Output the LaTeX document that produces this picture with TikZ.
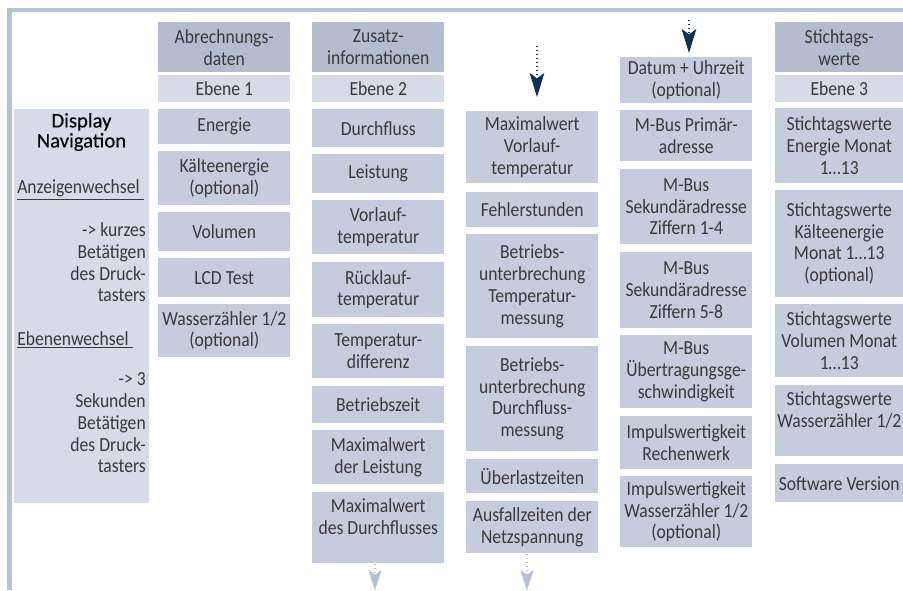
\documentclass[tikz,border=0pt]{standalone}
\usepackage{fontspec}
\setmainfont{Carlito}[FakeStretch=0.88]
\newfontfamily\titlefont{Carlito}[FakeBold=0.3]
\usetikzlibrary{arrows.meta}

\definecolor{headblue}{RGB}{180,189,208}
\definecolor{itemblue}{RGB}{197,204,221}
\definecolor{paleblue}{RGB}{213,219,231}
\definecolor{frameblue}{RGB}{183,193,212}
\definecolor{navy}{RGB}{14,51,84}
\definecolor{txtgray}{RGB}{58,58,58}

\newcommand\pxu{0.75pt}

\tikzset{
  box/.style={fill=itemblue, anchor=north west, minimum width=132*\pxu,
    inner sep=1pt, align=center, text=txtgray,
    font=\fontsize{15}{16.3}\selectfont},
  headbox/.style={box, fill=headblue},
  levelbox/.style={box, fill=paleblue},
  navtext/.style={inner sep=0pt, text=txtgray, font=\fontsize{15}{16.3}\selectfont},
  godown/.style={navy, line width=1pt, dotted,
    -{Stealth[length=18pt, width=11pt, inset=4pt]}},
  gomore/.style={frameblue, line width=1pt, dotted,
    -{Stealth[length=15pt, width=10pt, inset=3.5pt]}}
}

\begin{document}
\begin{tikzpicture}[x=0.75pt, y=-0.75pt]
\useasboundingbox (0,0) rectangle (903,590);
% frame
\draw[frameblue, line width=3.4pt] (903,10) -- (9.5,10) -- (9.5,590);

% display navigation
\node[levelbox, minimum width=135*\pxu, minimum height=394*\pxu] (nav) at (14,109) {};
\node[navtext, text=black, align=center, font=\titlefont\fontsize{15.5}{15}\selectfont] (navtitle) at (81.5,132) {Display\\Navigation};
\node[navtext, anchor=west] (anzeige) at (17,190) {\underline{Anzeigenwechsel\ }};
\node[navtext, anchor=east, align=right] (kurz) at (146,262.5)
  {-> kurzes\\Betätigen\\des Druck-\\tasters};
\node[navtext, anchor=west] (ebenen) at (17,340) {\underline{Ebenenwechsel\ }};
\node[navtext, anchor=east, align=right] (lang) at (146,423)
  {-> 3\\Sekunden\\Betätigen\\des Druck-\\tasters};

% Ebene 1
\node[headbox, minimum height=50*\pxu] (abrechnung) at (158,22) {Abrechnungs-\\daten};
\node[levelbox, minimum height=27*\pxu] (ebene1) at (158,75) {Ebene 1};
\node[box, minimum height=35*\pxu] (energie) at (158,109) {Energie};
\node[box, minimum height=54*\pxu] (kaelte) at (158,151) {Kälteenergie\\(optional)};
\node[box, minimum height=39*\pxu] (volumen) at (158,212) {Volumen};
\node[box, minimum height=39*\pxu] (lcdtest) at (158,258) {LCD Test};
\node[box, minimum height=53*\pxu] (wasser) at (158,304) {Wasserzähler 1/2\\(optional)};

% Ebene 2
\node[headbox, minimum height=50*\pxu] (zusatz) at (312,22) {Zusatz-\\informationen};
\node[levelbox, minimum height=27*\pxu] (ebene2) at (312,75) {Ebene 2};
\node[box, minimum height=38*\pxu] (durchfluss) at (312,109) {Durchfluss};
\node[box, minimum height=39*\pxu] (leistung) at (312,154) {Leistung};
\node[box, minimum height=54*\pxu] (vorlauf) at (312,200) {Vorlauf-\\temperatur};
\node[box, minimum height=55*\pxu] (ruecklauf) at (312,262) {Rücklauf-\\temperatur};
\node[box, minimum height=54*\pxu] (tdiff) at (312,324) {Temperatur-\\differenz};
\node[box, minimum height=37*\pxu] (betriebszeit) at (312,386) {Betriebszeit};
\node[box, minimum height=54*\pxu] (maxleistung) at (312,430) {Maximalwert\\der Leistung};
\node[box, minimum height=71*\pxu] (maxdurchfluss) at (312,492) {Maximalwert\\des Durchflusses\\~};

% Ebene 2, Fortsetzung
\node[box, minimum height=72*\pxu] (maxvorlauf) at (466,111) {Maximalwert\\Vorlauf-\\temperatur};
\node[box, minimum height=35*\pxu] (fehler) at (466,192) {Fehlerstunden};
\node[box, minimum height=104*\pxu] (unterbrtemp) at (466,234) {Betriebs-\\unterbrechung\\Temperatur-\\messung};
\node[box, minimum height=105*\pxu] (unterbrdurch) at (466,346) {Betriebs-\\unterbrechung\\Durchfluss-\\messung};
\node[box, minimum height=34*\pxu] (ueberlast) at (466,459) {Überlastzeiten};
\node[box, minimum height=52*\pxu] (ausfall) at (466,501) {Ausfallzeiten der\\Netzspannung};

% Ebene 2, Fortsetzung
\node[box, minimum height=46*\pxu] (datum) at (620,57) {Datum + Uhrzeit\\(optional)};
\node[box, minimum height=51*\pxu] (primaer) at (620,110) {M-Bus Primär-\\adresse};
\node[box, minimum height=75*\pxu] (sekA) at (620,169) {M-Bus\\Sekundäradresse\\Ziffern 1-4};
\node[box, minimum height=76*\pxu] (sekB) at (620,252) {M-Bus\\Sekundäradresse\\Ziffern 5-8};
\node[box, minimum height=73*\pxu] (baud) at (620,335) {M-Bus\\Übertragungsge-\\schwindigkeit};
\node[box, minimum height=53*\pxu] (impulsrw) at (620,416) {Impulswertigkeit\\Rechenwerk};
\node[box, minimum height=71*\pxu] (impulswz) at (620,476) {Impulswertigkeit\\Wasserzähler 1/2\\(optional)};

% Ebene 3
\node[headbox, minimum width=128*\pxu, minimum height=50*\pxu] (stichtag) at (775,22) {Stichtags-\\werte};
\node[levelbox, minimum width=128*\pxu, minimum height=27*\pxu] (ebene3) at (775,75) {Ebene 3};
\node[box, minimum width=128*\pxu, minimum height=75*\pxu] (stEnergie) at (775,108) {Stichtagswerte\\Energie Monat\\1…13};
\node[box, minimum width=128*\pxu, minimum height=107*\pxu] (stKaelte) at (775,190) {Stichtagswerte\\Kälteenergie\\Monat 1…13\\(optional)};
\node[box, minimum width=128*\pxu, minimum height=73*\pxu] (stVolumen) at (775,304) {Stichtagswerte\\Volumen Monat\\1…13};
\node[box, minimum width=128*\pxu, minimum height=71*\pxu] (stWasser) at (775,385) {Stichtagswerte\\Wasserzähler 1/2\\~};
\node[box, minimum width=128*\pxu, minimum height=38*\pxu] (software) at (775,464) {Software Version};

% arrows
\coordinate (in3) at (537,46);
\coordinate (in4) at (689,20);
\coordinate (out2) at (375,590);
\coordinate (out3) at (527,590);
\draw[godown, shorten >=14*\pxu] (in3) -- (in3 |- maxvorlauf.north);
\draw[godown, shorten >=4*\pxu] (in4) -- (in4 |- datum.north);
\draw[gomore] (maxdurchfluss.south -| out2) -- (out2);
\draw[gomore] (ausfall.south -| out3) -- (out3);
\end{tikzpicture}
\end{document}
